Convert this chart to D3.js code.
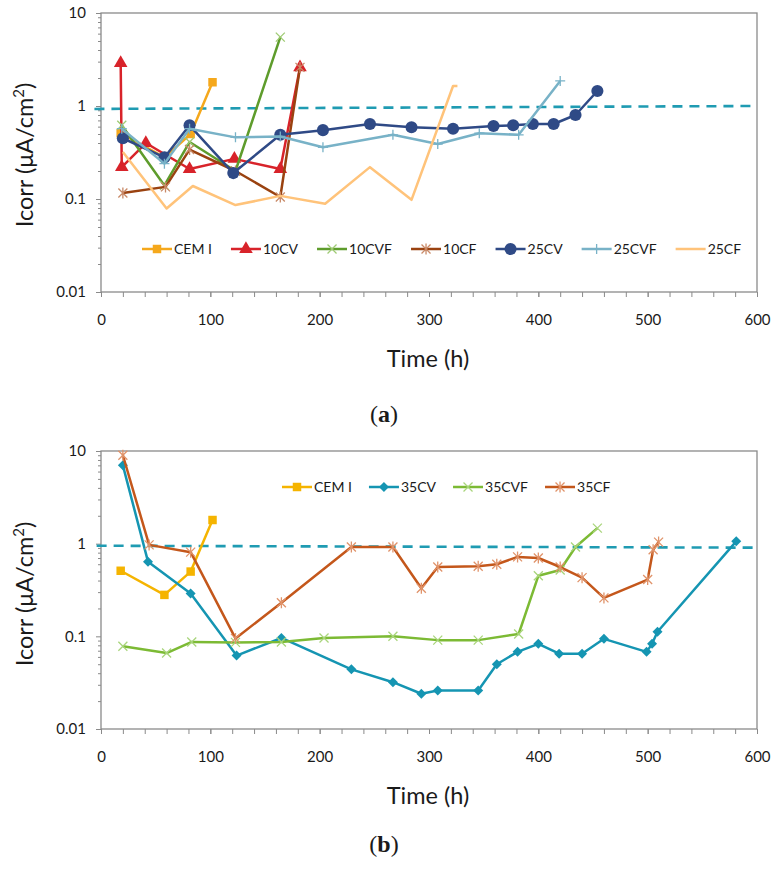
<!DOCTYPE html>
<html>
<head>
<meta charset="utf-8">
<script src="https://cdn.jsdelivr.net/npm/d3@7"></script>
<style>
body { margin: 0; background: #fff; }
text { font-family: Lato, "Open Sans", sans-serif; fill: #1a1a1a; }
</style>
</head>
<body>
<svg id="chart" width="778" height="874"></svg>
<script>
// [time (h), Icorr (uA/cm2)]
var cemI  = [[18,0.51],[58,0.28],[82,0.5],[102,1.8]];
var cv10  = [[18,2.9],[19,0.22],[41,0.40],[81,0.21],[122,0.27],[164,0.21],[182,2.6]];
var cvf10 = [[19,0.62],[58,0.14],[81,0.41],[123,0.2],[164,5.5]];
var cf10  = [[20,0.116],[59,0.135],[81,0.34],[123,0.2],[164,0.105],[182,2.6]];
var cv25  = [[20,0.45],[58,0.28],[81,0.62],[121,0.19],[164,0.49],[203,0.55],[246,0.64],[284,0.59],[322,0.57],[359,0.61],[377,0.62],[395,0.64],[414,0.64],[434,0.80],[454,1.45]];
var cvf25 = [[19,0.57],[58,0.24],[81,0.57],[123,0.46],[164,0.47],[203,0.36],[267,0.49],[308,0.39],[346,0.51],[382,0.49],[420,1.86]];
var cf25  = [[20,0.32],[60,0.079],[84,0.138],[123,0.086],[164,0.108],[205,0.089],[246,0.22],[284,0.098],[322,1.64],[326,1.64]];
var cv35  = [[20,7.0],[43,0.64],[82,0.29],[124,0.062],[165,0.096],[229,0.044],[267,0.032],[293,0.024],[308,0.026],[345,0.026],[362,0.05],[381,0.068],[400,0.083],[419,0.065],[440,0.065],[460,0.094],[499,0.068],[504,0.083],[509,0.112],[581,1.06]];
var cvf35 = [[20,0.078],[60,0.066],[83,0.087],[123,0.086],[165,0.087],[204,0.096],[267,0.10],[308,0.091],[345,0.091],[382,0.106],[400,0.45],[420,0.52],[434,0.92],[454,1.47]];
var cf35  = [[20,9.0],[44,0.97],[82,0.81],[123,0.095],[165,0.23],[229,0.92],[267,0.92],[293,0.33],[308,0.56],[345,0.57],[362,0.6],[381,0.72],[400,0.70],[420,0.56],[440,0.43],[460,0.26],[500,0.41],[505,0.86],[510,1.04]];

// dashed reference line (~1 uA/cm2)
var limitA = [[-6,0.93],[600,1.0]];
var limitB = [[-4,0.95],[600,0.905]];

var xTicks = [0,100,200,300,400,500,600];
var yTicks = [0.01,0.1,1,10];
var namesA = ["CEM I","10CV","10CVF","10CF","25CV","25CVF","25CF"];
var namesB = ["CEM I","35CV","35CVF","35CF"];

var svg = d3.select("#chart");

// marker shapes
var shapes = {
    square:   d3.symbol(d3.symbolSquare, 72)(),
    triangle: d3.symbol(d3.symbolTriangle, 80)(),
    circle:   d3.symbol(d3.symbolCircle, 115)(),
    diamond:  "M0,-5L5,0L0,5L-5,0Z",
    cross:    "M-4.5,-4.5L4.5,4.5M-4.5,4.5L4.5,-4.5",
    star:     "M-4.5,-4.5L4.5,4.5M-4.5,4.5L4.5,-4.5M0,-5.5L0,5.5",
    plus:     "M-5,0L5,0M0,-5L0,5",
    none:     ""
};
var filled = {square: true, triangle: true, circle: true, diamond: true};

var seriesA = [
    {data: cemI,  color: "#f5a81c", mcolor: "#f5a81c", shape: "square"},
    {data: cv10,  color: "#d8232a", mcolor: "#d8232a", shape: "triangle"},
    {data: cvf10, color: "#5e9c2c", mcolor: "#9fcb74", shape: "cross"},
    {data: cf10,  color: "#9a4210", mcolor: "#c98a68", shape: "star"},
    {data: cv25,  color: "#2f4a86", mcolor: "#2f4a86", shape: "circle"},
    {data: cvf25, color: "#78b2c7", mcolor: "#78b2c7", shape: "plus"},
    {data: cf25,  color: "#ffc37a", mcolor: "#ffc37a", shape: "none"}
];
var seriesB = [
    {data: cemI,  color: "#f5b400", mcolor: "#f5b400", shape: "square"},
    {data: cv35,  color: "#1595b2", mcolor: "#1595b2", shape: "diamond"},
    {data: cvf35, color: "#7cba34", mcolor: "#a9d57c", shape: "cross"},
    {data: cf35,  color: "#c4571b", mcolor: "#e0936a", shape: "star"}
];
seriesA.forEach(function(s, i) { s.name = namesA[i]; });
seriesB.forEach(function(s, i) { s.name = namesB[i]; });

function drawMarker(g, s) {
    var p = g.append("path").attr("d", shapes[s.shape]);
    if (filled[s.shape]) p.attr("fill", s.mcolor).attr("stroke", "none");
    else p.attr("fill", "none").attr("stroke", s.mcolor).attr("stroke-width", 1.3);
    return p;
}

function drawPanel(cfg) {
    var x = d3.scaleLinear().domain([0, 600]).range([101, 757]);
    var y = d3.scaleLog().domain([0.01, 10]).range([cfg.bottom, cfg.top]);
    var g = svg.append("g");

    // minor x ticks every 20 h
    g.append("g")
        .attr("transform", "translate(0," + cfg.bottom + ")")
        .call(d3.axisBottom(x).tickValues(d3.range(0, 601, 20)).tickSize(5).tickFormat(""))
        .call(function(a) { a.select(".domain").remove(); a.selectAll("line").attr("stroke", "#8a8a8a"); });

    var xAxis = g.append("g")
        .attr("transform", "translate(0," + cfg.bottom + ")")
        .call(d3.axisBottom(x).tickValues(xTicks).tickSize(5).tickPadding(17));
    xAxis.select(".domain").remove();
    xAxis.selectAll("line").attr("stroke", "#8a8a8a");
    xAxis.selectAll("text").attr("font-size", 15).attr("font-family", "Lato, sans-serif").attr("fill", "#1a1a1a");

    // minor y ticks 2..9 per decade
    var minor = [];
    [0.01, 0.1, 1].forEach(function(d) { for (var k = 2; k < 10; k++) minor.push(d * k); });
    g.append("g")
        .attr("transform", "translate(101,0)")
        .call(d3.axisLeft(y).tickValues(minor).tickSize(3).tickFormat(""))
        .call(function(a) { a.select(".domain").remove(); a.selectAll("line").attr("stroke", "#8a8a8a"); });

    var yAxis = g.append("g")
        .attr("transform", "translate(101,0)")
        .call(d3.axisLeft(y).tickValues(yTicks).tickSize(5).tickPadding(10).tickFormat(function(d) { return String(d); }));
    yAxis.select(".domain").remove();
    yAxis.selectAll("line").attr("stroke", "#8a8a8a");
    yAxis.selectAll("text").attr("font-size", 15).attr("font-family", "Lato, sans-serif").attr("fill", "#1a1a1a");

    // plot border
    g.append("rect")
        .attr("x", 101).attr("y", cfg.top)
        .attr("width", 656).attr("height", cfg.bottom - cfg.top)
        .attr("fill", "none").attr("stroke", "#8a8a8a").attr("stroke-width", 1.3);

    var line = d3.line().x(function(d) { return x(d[0]); }).y(function(d) { return y(d[1]); });

    g.append("path")
        .attr("d", line(cfg.limit))
        .attr("fill", "none").attr("stroke", "#1f9bb2")
        .attr("stroke-width", 2.6).attr("stroke-dasharray", "10,7");

    cfg.series.forEach(function(s) {
        g.append("path")
            .attr("d", line(s.data))
            .attr("fill", "none").attr("stroke", s.color)
            .attr("stroke-width", 2.5).attr("stroke-linejoin", "round");
        if (s.shape === "none") return;
        s.data.forEach(function(d) {
            drawMarker(g, s).attr("transform", "translate(" + x(d[0]) + "," + y(d[1]) + ")");
        });
    });

    // legend
    var lx = cfg.legendX;
    cfg.series.forEach(function(s) {
        var it = g.append("g").attr("transform", "translate(" + lx + "," + cfg.legendY + ")");
        it.append("line").attr("x1", 0).attr("x2", 30).attr("y1", 0).attr("y2", 0)
            .attr("stroke", s.color).attr("stroke-width", 2.5);
        if (s.shape !== "none") drawMarker(it, s).attr("transform", "translate(15,0)");
        var t = it.append("text").attr("x", 32).attr("y", 5).attr("font-size", 14).text(s.name);
        lx += 32 + t.node().getComputedTextLength() + cfg.legendGap;
    });

    // axis titles
    g.append("text")
        .attr("x", 428).attr("y", cfg.bottom + 75)
        .attr("text-anchor", "middle").attr("font-size", 23.5)
        .text("Time (h)");

    var yt = g.append("text")
        .attr("transform", "translate(33," + cfg.titleY + ") rotate(-90)")
        .attr("text-anchor", "middle").attr("font-size", 23.5);
    yt.append("tspan").text("Icorr (μA/cm");
    yt.append("tspan").attr("font-size", 15).attr("dy", -9).text("2");
    yt.append("tspan").attr("dy", 9).text(")");

    // panel label
    var pl = g.append("text")
        .attr("x", 384).attr("y", cfg.labelY)
        .attr("text-anchor", "middle").attr("font-size", 24)
        .style("font-family", "'Liberation Serif', serif");
    pl.append("tspan").text("(");
    pl.append("tspan").attr("font-weight", "bold").text(cfg.label);
    pl.append("tspan").text(")");
}

drawPanel({top: 13, bottom: 292, series: seriesA, limit: limitA,
           legendX: 142, legendY: 249, legendGap: 19, titleY: 155, labelY: 422, label: "a"});
drawPanel({top: 451, bottom: 729, series: seriesB, limit: limitB,
           legendX: 282, legendY: 487, legendGap: 17, titleY: 594, labelY: 852, label: "b"});
</script>
</body>
</html>
